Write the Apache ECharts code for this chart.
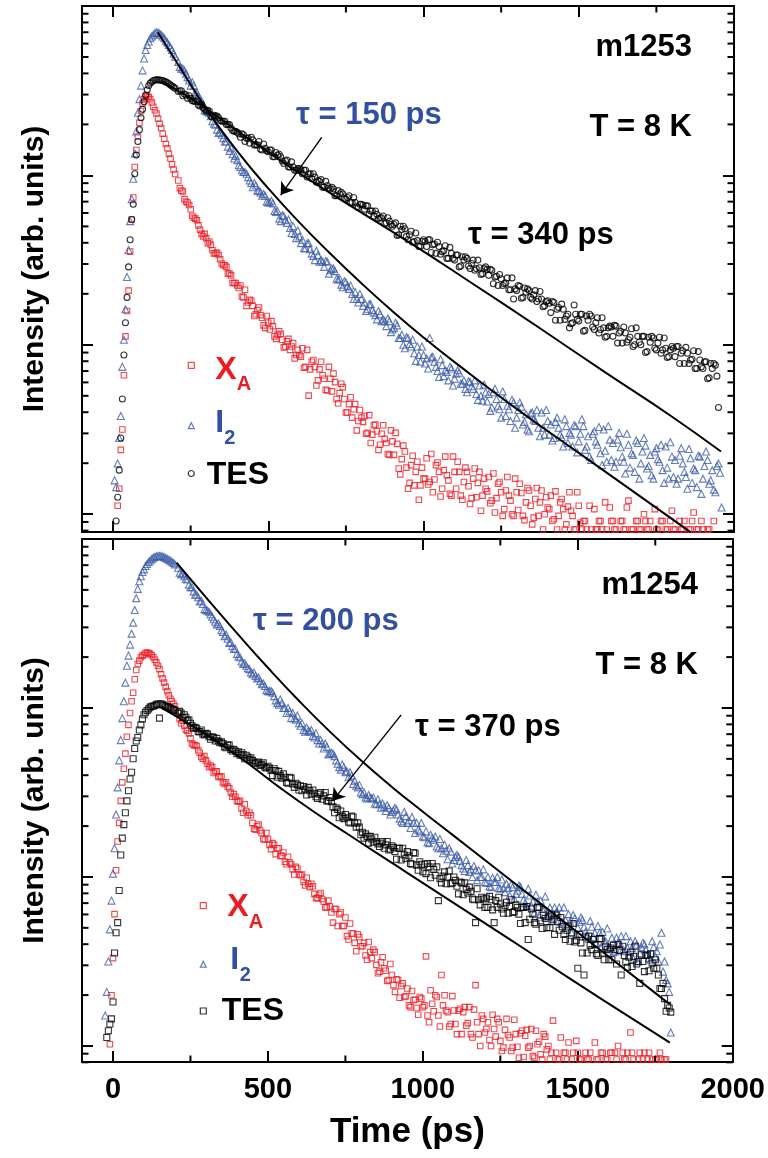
<!DOCTYPE html>
<html>
<head>
<meta charset="utf-8">
<script src="https://cdn.jsdelivr.net/npm/echarts@6/dist/echarts.min.js"></script>
<style>
html,body{margin:0;padding:0;background:#fff;}
#chart{width:768px;height:1158px;}
</style>
</head>
<body>
<div id="chart"></div>
<script>
// ---------------- DATA (intensities stored as log10 of arb. units) ----------------
// Sample times (ps), top panel (m1253), set A
const topTime = [
 5,10,15,20,25,30,35,40,45,50,
 55,60,65,70,75,80,85,90,95,100,
 105,110,115,120,125,130,135,140,145,150,
 155,160,165,170,175,180,185,190,195,200,
 210,220,230,240,250,260,270,280,290,300,
 310,320,330,340,350,360,370,380,390,400,
 410,420,430,440,450,460,470,480,490,500,
 510,520,530,540,550,560,570,580,590,600,
 610,620,630,640,650,660,670,680,690,700,
 710,720,730,740,750,760,770,780,790,800,
 810,820,830,840,850,860,870,880,890,900,
 910,920,930,940,950,960,970,980,990,1000,
 1010,1020,1030,1040,1050,1060,1070,1080,1090,1100,
 1110,1120,1130,1140,1150,1160,1170,1180,1190,1200,
 1210,1220,1230,1240,1250,1260,1270,1280,1290,1300,
 1310,1320,1330,1340,1350,1360,1370,1380,1390,1400,
 1410,1420,1430,1440,1450,1460,1470,1480,1490,1500,
 1510,1520,1530,1540,1550,1560,1570,1580,1590,1600,
 1610,1620,1630,1640,1650,1660,1670,1680,1690,1700,
 1710,1720,1730,1740,1750,1760,1770,1780,1790,1800,
 1810,1820,1830,1840,1850,1860,1870,1880,1890,1900,
 1910,1920,1930,1940,1950,1960
];
// X_A (red squares), top panel
const topXA = [
 null,null,-2.95,-2.85,-2.62,-2.50,-2.18,-1.95,-1.80,-1.68,
 -1.45,-1.26,-1.13,-0.95,-0.85,-0.77,-0.69,-0.62,-0.575,-0.55,
 -0.535,-0.53,-0.538,-0.55,-0.57,-0.595,-0.615,-0.635,-0.665,-0.695,
 -0.72,-0.754,-0.784,-0.815,-0.84,-0.873,-0.90,-0.935,-0.965,-0.992,
 -1.03,-1.09,-1.14,-1.16,-1.20,-1.25,-1.265,-1.32,-1.36,-1.37,
 -1.39,-1.44,-1.46,-1.47,-1.52,-1.53,-1.58,-1.59,-1.635,-1.65,
 -1.65,-1.72,-1.77,-1.735,-1.77,-1.82,-1.78,-1.84,-1.90,-1.87,
 -1.86,-1.95,-1.94,-1.935,-2.015,-1.98,-2.03,-1.99,-2.06,-2.06,
 -2.02,-2.13,-2.30,-2.10,-2.13,-2.21,-2.10,-2.20,-2.27,-2.20,
 -2.17,-2.32,-2.285,-2.25,-2.40,-2.35,-2.43,-2.35,-2.45,-2.43,
 -2.42,-2.52,-2.58,-2.475,-2.51,-2.59,-2.475,-2.58,-2.65,-2.57,
 -2.52,-2.73,-2.675,-2.63,-2.85,-2.71,-2.83,-2.69,-2.83,-2.79,
 -2.67,-2.81,-2.87,-2.71,-2.75,-2.85,-2.66,-2.80,-2.89,-2.75,
 -2.69,-2.89,-2.81,-2.75,-2.94,-2.79,-2.90,-2.75,-2.89,-2.85,
 -2.78,-2.92,-2.99,-2.82,-2.87,-2.97,-2.78,-2.92,-3.01,-2.87,
 -2.82,-3.01,-2.93,-2.86,-3.06,-2.91,-3.01,-2.86,-3.00,-2.96,
 -2.89,-3.03,-3.09,-2.93,-2.97,-3.06,-2.87,-3.01,-3.09,-2.95,
 -3.09,-3.04,null,-3.09,-2.97,-3.09,-3.04,null,-3.09,-2.96,
 -3.04,-3.09,null,-3.04,-3.09,-2.92,-3.09,null,-3.04,-3.09,
 -3.00,-3.09,-3.04,null,-3.09,null,-3.04,-3.09,null,-2.98,
 -3.09,null,-3.09,-3.04,null,-3.09,-2.99,-3.09,null,-3.09,
 null,-3.09,null,null,null,null
];
// I_2 (blue triangles), top panel
const topI2 = [
 -2.80,-2.84,-2.70,-2.55,-2.42,-2.13,-1.97,-1.79,-1.60,-1.44,
 -1.27,-1.14,-1.02,-0.87,-0.74,-0.63,-0.55,-0.47,-0.38,-0.31,
 -0.26,-0.23,-0.21,-0.19,-0.18,-0.17,-0.16,-0.155,-0.158,-0.162,
 -0.17,-0.18,-0.19,-0.205,-0.215,-0.23,-0.245,-0.26,-0.28,-0.30,
 -0.33,-0.37,-0.38,-0.42,-0.47,-0.47,-0.51,-0.56,-0.58,-0.62,
 -0.63,-0.68,-0.70,-0.75,-0.76,-0.80,-0.83,-0.84,-0.90,-0.91,
 -0.95,-0.98,-0.99,-1.03,-1.07,-1.06,-1.09,-1.12,-1.12,-1.16,
 -1.15,-1.21,-1.21,-1.27,-1.24,-1.28,-1.31,-1.30,-1.37,-1.36,
 -1.38,-1.43,-1.40,-1.46,-1.50,-1.47,-1.50,-1.54,-1.51,-1.56,
 -1.55,-1.61,-1.61,-1.66,-1.63,-1.67,-1.70,-1.69,-1.75,-1.73,
 -1.75,-1.79,-1.76,-1.81,-1.85,-1.82,-1.85,-1.89,-1.86,-1.91,
 -1.87,-1.96,-1.94,-2.02,-1.96,-2.01,-2.05,-2.01,-2.10,-2.06,
 -2.08,-1.96,-2.07,-2.13,-2.19,-2.12,-2.15,-2.21,-2.14,-2.20,
 -2.15,-2.23,-2.21,-2.28,-2.22,-2.26,-2.29,-2.24,-2.33,-2.28,
 -2.29,-2.37,-2.26,-2.36,-2.43,-2.32,-2.36,-2.45,-2.34,-2.43,
 -2.34,-2.47,-2.41,-2.51,-2.40,-2.45,-2.49,-2.40,-2.53,-2.45,
 -2.47,-2.55,-2.43,-2.53,-2.60,-2.48,-2.52,-2.60,-2.48,-2.57,
 -2.44,-2.62,-2.54,-2.68,-2.51,-2.59,-2.64,-2.50,-2.69,-2.56,
 -2.58,-2.69,-2.52,-2.66,-2.76,-2.59,-2.64,-2.75,-2.58,-2.70,
 -2.55,-2.73,-2.65,-2.79,-2.61,-2.69,-2.74,-2.60,-2.79,-2.66,
 -2.68,-2.79,-2.61,-2.75,-2.85,-2.67,-2.73,-2.84,-2.66,-2.79,
 -2.63,-2.82,-2.74,-2.87,-2.70,-2.96
];
// TES (black circles), top panel
const topTES = [
 null,-3.04,-2.90,-2.74,-2.55,-2.32,-2.06,-1.87,-1.72,-1.54,
 -1.38,-1.26,-1.17,-0.99,-0.88,-0.80,-0.73,-0.66,-0.61,-0.565,
 -0.525,-0.495,-0.47,-0.455,-0.447,-0.44,-0.437,-0.436,-0.436,-0.437,
 -0.438,-0.44,-0.444,-0.448,-0.453,-0.459,-0.466,-0.472,-0.479,-0.486,
 -0.505,-0.50,-0.52,-0.545,-0.545,-0.56,-0.56,-0.59,-0.60,-0.62,
 -0.62,-0.655,-0.65,-0.66,-0.68,-0.68,-0.70,-0.72,-0.74,-0.745,
 -0.775,-0.76,-0.78,-0.81,-0.79,-0.82,-0.80,-0.85,-0.84,-0.86,
 -0.85,-0.89,-0.88,-0.89,-0.93,-0.91,-0.95,-0.95,-0.97,-0.96,
 -0.99,-0.97,-0.99,-1.02,-1.01,-1.03,-1.025,-1.07,-1.06,-1.08,
 -1.08,-1.12,-1.11,-1.11,-1.14,-1.12,-1.16,-1.16,-1.19,-1.17,
 -1.20,-1.18,-1.21,-1.24,-1.23,-1.25,-1.24,-1.28,-1.27,-1.30,
 -1.28,-1.35,-1.32,-1.315,-1.38,-1.33,-1.39,-1.385,-1.42,-1.38,
 -1.42,-1.38,-1.41,-1.46,-1.42,-1.45,-1.415,-1.49,-1.46,-1.50,
 -1.47,-1.535,-1.50,-1.49,-1.55,-1.50,-1.55,-1.545,-1.58,-1.54,
 -1.59,-1.56,-1.60,-1.65,-1.61,-1.64,-1.605,-1.675,-1.73,-1.68,
 -1.655,-1.72,-1.69,-1.68,-1.73,-1.68,-1.73,-1.73,-1.77,-1.74,
 -1.81,-1.75,-1.79,-1.855,-1.79,-1.83,-1.90,-1.87,-1.82,-1.86,
 -1.82,-1.915,-1.855,-1.83,-1.91,-1.84,-1.91,-1.90,-1.95,-1.89,
 -1.95,-1.89,-1.93,-1.99,-1.93,-1.97,-1.905,-2.00,-1.95,-2.00,
 -1.95,-2.04,-1.985,-1.96,-2.03,-1.955,-2.03,-2.02,-2.07,-2.01,
 -2.07,-2.01,-2.05,-2.11,-2.05,-2.09,-2.035,-2.14,-2.09,-2.14,
 -2.10,-2.195,-2.14,-2.12,-2.37,null
];
// Second (interleaved) set of samples, top panel
const topTimeB = [
 215,225,235,245,255,265,275,285,295,305,
 315,325,335,345,355,365,375,385,395,405,
 415,425,435,445,455,465,475,485,495,505,
 515,525,535,545,555,565,575,585,595,605,
 615,625,635,645,655,665,675,685,695,705,
 715,725,735,745,755,765,775,785,795,805,
 815,825,835,845,855,865,875,885,895,905,
 915,925,935,945,955,965,975,985,995,1005,
 1015,1025,1035,1045,1055,1065,1075,1085,1095,1105,
 1115,1125,1135,1145,1155,1165,1175,1185,1195,1205,
 1215,1225,1235,1245,1255,1265,1275,1285,1295,1305,
 1315,1325,1335,1345,1355,1365,1375,1385,1395,1405,
 1415,1425,1435,1445,1455,1465,1475,1485,1495,1505,
 1515,1525,1535,1545,1555,1565,1575,1585,1595,1605,
 1615,1625,1635,1645,1655,1665,1675,1685,1695,1705,
 1715,1725,1735,1745,1755,1765,1775,1785,1795,1805,
 1815,1825,1835,1845,1855,1865,1875,1885,1895,1905,
 1915,1925,1935,1945,1955
];
const topXAB = [
 -1.075,-1.095,-1.155,-1.175,-1.24,-1.255,-1.295,-1.345,-1.345,-1.40,
 -1.41,-1.46,-1.455,-1.495,-1.53,-1.54,-1.58,-1.635,-1.635,-1.665,
 -1.715,-1.675,-1.75,-1.74,-1.83,-1.795,-1.825,-1.885,-1.83,-1.91,
 -1.89,-1.965,-1.92,-1.97,-2.01,-1.965,-2.01,-2.08,-2.03,-2.07,
 -2.135,-2.03,-2.145,-2.09,-2.24,-2.145,-2.18,-2.265,-2.13,-2.275,
 -2.22,-2.345,-2.23,-2.32,-2.40,-2.31,-2.38,-2.505,-2.385,-2.455,
 -2.525,-2.415,-2.53,-2.47,-2.62,-2.525,-2.555,-2.645,-2.505,-2.65,
 -2.585,-2.765,-2.595,-2.725,-2.815,-2.655,-2.75,-2.915,-2.725,-2.79,
 -2.825,-2.645,-2.795,-2.695,-2.895,-2.74,-2.77,-2.88,-2.66,-2.85,
 -2.75,-2.915,-2.725,-2.835,-2.905,-2.73,-2.815,-2.98,-2.79,-2.865,
 -2.935,-2.76,-2.905,-2.81,-3.01,-2.86,-2.89,-3.00,-2.79,-2.975,
 -2.875,-3.035,-2.845,-2.95,-3.02,-2.845,-2.93,-3.09,-2.90,-2.97,
 -3.04,-2.865,-3.01,-2.91,-3.09,-2.955,-2.98,-3.09,-2.87,-3.05,
 -3.04,-3.09,-2.95,null,-3.09,-3.04,-3.09,-2.93,null,-3.04,
 -3.09,null,-3.04,-3.09,-2.96,null,-3.09,-3.04,-3.09,null,
 -3.04,-3.09,null,-2.97,-3.09,-3.04,null,-3.09,-3.04,-3.09,
 null,-3.04,-3.09,null,-3.09,-3.04,null,-3.09,-3.04,null,
 -3.09,null,-3.04,null,null
];
const topI2B = [
 -0.36,-0.37,-0.40,-0.44,-0.45,-0.51,-0.53,-0.56,-0.615,-0.625,
 -0.65,-0.695,-0.73,-0.745,-0.78,-0.80,-0.855,-0.875,-0.885,-0.94,
 -0.97,-0.98,-1.01,-1.045,-1.045,-1.09,-1.10,-1.11,-1.155,-1.16,
 -1.165,-1.215,-1.255,-1.235,-1.265,-1.26,-1.34,-1.345,-1.325,-1.40,
 -1.43,-1.40,-1.435,-1.475,-1.445,-1.51,-1.51,-1.505,-1.58,-1.55,
 -1.565,-1.615,-1.645,-1.625,-1.655,-1.65,-1.73,-1.73,-1.70,-1.77,
 -1.80,-1.76,-1.795,-1.825,-1.80,-1.86,-1.86,-1.845,-1.925,-1.90,
 -1.885,-1.96,-2.00,-1.955,-1.995,-1.97,-2.095,-2.06,-2.01,-2.11,
 -2.14,-2.075,-2.10,-2.155,-2.085,-2.185,-2.16,-2.13,-2.24,-2.17,
 -2.165,-2.23,-2.26,-2.215,-2.245,-2.21,-2.325,-2.30,-2.235,-2.335,
 -2.39,-2.28,-2.32,-2.38,-2.275,-2.42,-2.38,-2.325,-2.49,-2.385,
 -2.365,-2.455,-2.50,-2.405,-2.44,-2.385,-2.54,-2.49,-2.385,-2.53,
 -2.565,-2.455,-2.49,-2.545,-2.44,-2.58,-2.53,-2.475,-2.635,-2.525,
 -2.48,-2.60,-2.66,-2.525,-2.57,-2.485,-2.71,-2.625,-2.48,-2.68,
 -2.72,-2.56,-2.605,-2.69,-2.525,-2.725,-2.65,-2.565,-2.79,-2.63,
 -2.595,-2.715,-2.77,-2.63,-2.675,-2.59,-2.815,-2.725,-2.575,-2.78,
 -2.82,-2.655,-2.70,-2.78,-2.615,-2.815,-2.74,-2.655,-2.88,-2.715,
 -2.68,-2.80,-2.855,-2.715,-2.755
];
const topTESB = [
 -0.50,-0.53,-0.525,-0.53,-0.56,-0.565,-0.585,-0.58,-0.61,-0.615,
 -0.65,-0.645,-0.65,-0.675,-0.68,-0.70,-0.70,-0.735,-0.74,-0.755,
 -0.755,-0.80,-0.78,-0.775,-0.82,-0.82,-0.845,-0.815,-0.855,-0.85,
 -0.89,-0.865,-0.875,-0.915,-0.915,-0.95,-0.92,-0.97,-0.96,-0.965,
 -0.97,-1.01,-0.99,-0.99,-1.04,-1.035,-1.07,-1.035,-1.075,-1.07,
 -1.12,-1.09,-1.10,-1.135,-1.13,-1.16,-1.13,-1.185,-1.17,-1.175,
 -1.18,-1.23,-1.21,-1.21,-1.255,-1.25,-1.285,-1.25,-1.29,-1.29,
 -1.355,-1.30,-1.30,-1.36,-1.35,-1.395,-1.34,-1.42,-1.39,-1.39,
 -1.38,-1.455,-1.405,-1.395,-1.465,-1.445,-1.49,-1.425,-1.49,-1.47,
 -1.54,-1.48,-1.48,-1.535,-1.52,-1.56,-1.50,-1.585,-1.55,-1.555,
 -1.555,-1.64,-1.595,-1.585,-1.65,-1.635,-1.675,-1.605,-1.67,-1.65,
 -1.725,-1.665,-1.67,-1.72,-1.705,-1.745,-1.685,-1.775,-1.745,-1.755,
 -1.745,-1.855,-1.78,-1.76,-1.85,-1.82,-1.875,-1.765,-1.85,-1.82,
 -1.92,-1.83,-1.82,-1.895,-1.87,-1.93,-1.84,-1.955,-1.90,-1.895,
 -1.885,-1.99,-1.92,-1.895,-1.985,-1.955,-2.01,-1.90,-1.985,-1.95,
 -2.045,-1.955,-1.95,-2.02,-1.99,-2.05,-1.96,-2.075,-2.03,-2.02,
 -2.01,-2.11,-2.035,-2.015,-2.11,-2.085,-2.14,-2.04,-2.13,-2.10,
 -2.20,-2.11,-2.11,-2.185,null
];
// Fit curves, top panel
const topFitI2Time = [144,200,300,400,500,600,700,800,900,1000,1100,1300,1500,1700,1860];
const topFitI2 = [-0.155,-0.317,-0.607,-0.857,-1.077,-1.277,-1.462,-1.637,-1.802,-1.957,-2.102,-2.378,-2.638,-2.898,-3.106];
const topFitTESTime = [157,200,275,437,653,967,1155,1369,1583,1797,1958];
const topFitTES = [-0.446,-0.49,-0.575,-0.784,-1.05,-1.41,-1.635,-1.895,-2.16,-2.42,-2.63];

// Sample times (ps), bottom panel (m1254), set A
const botTime = [
 -25,-20,-15,-10,-5,0,5,10,15,20,
 25,30,35,40,45,50,55,60,65,70,
 75,80,85,90,95,100,105,110,115,120,
 125,130,135,140,145,150,155,160,165,170,
 175,180,185,190,195,200,
 210,220,230,240,250,260,270,280,290,300,
 310,320,330,340,350,360,370,380,390,400,
 410,420,430,440,450,460,470,480,490,500,
 510,520,530,540,550,560,570,580,590,600,
 610,620,630,640,650,660,670,680,690,700,
 710,720,730,740,750,760,770,780,790,800,
 810,820,830,840,850,860,870,880,890,900,
 910,920,930,940,950,960,970,980,990,1000,
 1010,1020,1030,1040,1050,1060,1070,1080,1090,1100,
 1110,1120,1130,1140,1150,1160,1170,1180,1190,1200,
 1210,1220,1230,1240,1250,1260,1270,1280,1290,1300,
 1310,1320,1330,1340,1350,1360,1370,1380,1390,1400,
 1410,1420,1430,1440,1450,1460,1470,1480,1490,1500,
 1510,1520,1530,1540,1550,1560,1570,1580,1590,1600,
 1610,1620,1630,1640,1650,1660,1670,1680,1690,1700,
 1710,1720,1730,1740,1750,1760,1770,1780,1790,1800
];
const botXA = [
 null,null,null,-2.99,-2.70,-2.48,-2.22,-1.96,-1.79,-1.68,
 -1.55,-1.44,-1.36,-1.27,-1.17,-1.10,-1.03,-0.96,-0.91,-0.83,
 -0.775,-0.74,-0.72,-0.70,-0.69,-0.685,-0.675,-0.672,-0.675,-0.68,
 -0.688,-0.70,-0.715,-0.73,-0.75,-0.77,-0.80,-0.825,-0.85,-0.875,
 -0.90,-0.925,-0.945,-0.96,-0.975,-0.99,
 -1.03,-1.09,-1.105,-1.135,-1.18,-1.22,-1.225,-1.265,-1.30,-1.31,
 -1.35,-1.35,-1.375,-1.405,-1.405,-1.45,-1.465,-1.50,-1.51,-1.55,
 -1.55,-1.62,-1.61,-1.62,-1.68,-1.72,-1.69,-1.74,-1.78,-1.775,
 -1.835,-1.81,-1.83,-1.875,-1.855,-1.925,-1.915,-1.955,-1.94,-1.985,
 -1.985,-2.05,-2.04,-2.04,-2.10,-2.125,-2.095,-2.145,-2.18,-2.175,
 -2.27,-2.19,-2.22,-2.29,-2.24,-2.37,-2.335,-2.39,-2.34,-2.41,
 -2.39,-2.49,-2.445,-2.43,-2.52,-2.56,-2.475,-2.555,-2.61,-2.58,
 -2.68,-2.61,-2.645,-2.71,-2.66,-2.77,-2.73,-2.775,-2.71,-2.77,
 -2.47,-2.86,-2.75,-2.70,-2.82,-2.58,-2.70,-2.80,-2.87,-2.79,
 -2.93,-2.78,-2.80,-2.88,-2.77,-2.95,-2.64,-2.93,-2.82,-2.92,
 -2.86,-3.00,-2.90,-2.84,-2.97,-3.01,-2.84,-2.95,-3.01,-2.93,
 -3.07,-2.91,-2.94,-3.01,-2.90,-3.07,-2.99,-3.05,-2.93,-3.02,
 -3.08,-2.85,-3.04,-3.08,null,-3.04,-2.98,-3.08,null,-3.04,
 -3.08,null,-3.08,-3.04,null,-3.08,null,-3.04,-3.08,null,
 -3.04,-3.04,-3.00,null,-3.08,-3.04,-2.92,-3.08,null,-3.04,
 -3.08,null,-3.04,-3.08,-3.08,null,-3.08,-3.08,null,null
];
const botI2 = [
 -2.82,-2.68,-2.50,-2.31,-2.14,-1.98,-1.83,-1.63,-1.47,-1.31,
 -1.19,-1.06,-0.96,-0.85,-0.75,-0.69,-0.625,-0.56,-0.495,-0.42,
 -0.35,-0.295,-0.25,-0.22,-0.195,-0.18,-0.16,-0.148,-0.136,-0.127,
 -0.118,-0.11,-0.106,-0.102,-0.10,-0.10,-0.10,-0.103,-0.108,-0.112,
 -0.117,-0.122,-0.128,-0.135,-0.142,-0.15,
 -0.17,-0.21,-0.22,-0.24,-0.285,-0.31,-0.33,-0.37,-0.385,-0.42,
 -0.43,-0.46,-0.49,-0.50,-0.54,-0.575,-0.59,-0.61,-0.65,-0.68,
 -0.70,-0.74,-0.75,-0.77,-0.80,-0.81,-0.82,-0.86,-0.87,-0.90,
 -0.90,-0.93,-0.97,-0.95,-1.00,-1.03,-1.02,-1.03,-1.07,-1.09,
 -1.09,-1.14,-1.135,-1.13,-1.175,-1.19,-1.19,-1.24,-1.23,-1.27,
 -1.27,-1.31,-1.35,-1.335,-1.38,-1.41,-1.40,-1.43,-1.47,-1.50,
 -1.50,-1.535,-1.53,-1.53,-1.57,-1.57,-1.565,-1.61,-1.59,-1.615,
 -1.59,-1.63,-1.67,-1.615,-1.68,-1.71,-1.68,-1.68,-1.73,-1.76,
 -1.73,-1.80,-1.77,-1.76,-1.83,-1.83,-1.81,-1.895,-1.85,-1.90,
 -1.87,-1.905,-1.95,-1.90,-1.97,-2.00,-1.96,-1.96,-2.00,-2.03,
 -2.00,-2.06,-2.03,-2.00,-2.07,-2.065,-2.04,-2.11,-2.06,-2.10,
 -2.05,-2.10,-2.155,-2.07,-2.17,-2.21,-2.15,-2.14,-2.19,-2.23,
 -2.18,-2.26,-2.21,-2.18,-2.27,-2.255,-2.22,-2.33,-2.245,-2.30,
 -2.24,-2.295,-2.345,-2.26,-2.355,-2.39,-2.33,-2.325,-2.38,-2.42,
 -2.36,-2.44,-2.39,-2.35,-2.44,-2.42,-2.38,-2.485,-2.40,-2.45,
 -2.39,-2.43,-2.48,-2.38,-2.47,-2.50,-2.33,-2.50,-2.63,-2.92
];
const botTES = [
 null,-2.95,-2.91,-2.87,-2.84,-2.74,-2.45,-2.33,-2.27,-2.08,
 -1.87,-1.77,-1.69,-1.62,-1.55,-1.49,-1.42,-1.38,-1.30,-1.24,
 -1.195,-1.175,-1.13,-1.10,-1.065,-1.04,-1.025,-1.015,-1.005,-0.995,
 -0.99,-0.99,-0.985,-0.98,-0.975,-1.06,-0.975,-0.98,-0.985,-0.99,
 -0.992,-0.997,-1.0,-1.005,-1.01,-1.015,
 -1.03,-1.03,-1.04,-1.075,-1.09,-1.12,-1.12,-1.14,-1.155,-1.15,
 -1.17,-1.17,-1.195,-1.195,-1.20,-1.23,-1.22,-1.245,-1.245,-1.27,
 -1.28,-1.275,-1.28,-1.305,-1.31,-1.33,-1.32,-1.335,-1.35,-1.345,
 -1.37,-1.36,-1.41,-1.40,-1.39,-1.44,-1.41,-1.45,-1.445,-1.485,
 -1.49,-1.48,-1.47,-1.51,-1.505,-1.535,-1.50,-1.52,-1.55,-1.53,
 -1.585,-1.59,-1.65,-1.64,-1.63,-1.675,-1.64,-1.68,-1.68,-1.75,
 -1.77,-1.76,-1.76,-1.795,-1.79,-1.82,-1.79,-1.81,-1.84,-1.815,
 -1.85,-1.83,-1.90,-1.87,-1.85,-1.92,-1.855,-1.93,-1.91,-1.97,
 -1.98,-1.94,-1.92,-1.99,-2.14,-2.035,-1.97,-2.00,-2.04,-2.00,
 -2.055,-2.03,-2.105,-2.075,-2.06,-2.13,-2.27,-2.135,-2.12,-2.18,
 -2.18,-2.135,-2.27,-2.18,-2.16,-2.215,-2.15,-2.175,-2.21,-2.165,
 -2.22,-2.18,-2.27,-2.37,-2.19,-2.27,-2.18,-2.26,-2.225,-2.30,
 -2.30,-2.25,-2.225,-2.315,-2.295,-2.37,-2.29,-2.33,-2.385,-2.54,
 -2.39,-2.58,-2.45,-2.405,-2.37,-2.455,-2.365,-2.45,-2.41,-2.49,
 -2.49,-2.43,-2.40,-2.58,-2.465,-2.535,-2.445,-2.47,-2.515,-2.63,
 -2.50,-2.465,-2.555,-2.51,-2.49,-2.58,-2.66,-2.72,-2.76,-2.80
];
// Second (interleaved) set of samples, bottom panel
const botTimeB = [
 215,225,235,245,255,265,275,285,295,305,
 315,325,335,345,355,365,375,385,395,405,
 415,425,435,445,455,465,475,485,495,505,
 515,525,535,545,555,565,575,585,595,605,
 615,625,635,645,655,665,675,685,695,705,
 715,725,735,745,755,765,775,785,795,805,
 815,825,835,845,855,865,875,885,895,905,
 915,925,935,945,955,965,975,985,995,1005,
 1015,1025,1035,1045,1055,1065,1075,1085,1095,1105,
 1115,1125,1135,1145,1155,1165,1175,1185,1195,1205,
 1215,1225,1235,1245,1255,1265,1275,1285,1295,1305,
 1315,1325,1335,1345,1355,1365,1375,1385,1395,1405,
 1415,1425,1435,1445,1455,1465,1475,1485,1495,1505,
 1515,1525,1535,1545,1555,1565,1575,1585,1595,1605,
 1615,1625,1635,1645,1655,1665,1675,1685,1695,1705,
 1715,1725,1735,1745,1755,1765,1775,1785,1795
];
const botXAB = [
 -1.065,-1.075,-1.13,-1.15,-1.21,-1.22,-1.25,-1.29,-1.285,-1.33,
 -1.34,-1.385,-1.375,-1.41,-1.44,-1.44,-1.475,-1.525,-1.525,-1.555,
 -1.595,-1.57,-1.635,-1.635,-1.715,-1.70,-1.725,-1.775,-1.74,-1.81,
 -1.80,-1.865,-1.83,-1.875,-1.91,-1.88,-1.925,-1.985,-1.95,-1.99,
 -2.03,-2.005,-2.06,-2.055,-2.125,-2.105,-2.13,-2.18,-2.14,-2.21,
 -2.19,-2.29,-2.21,-2.29,-2.35,-2.275,-2.335,-2.44,-2.355,-2.41,
 -2.465,-2.385,-2.48,-2.445,-2.57,-2.505,-2.54,-2.615,-2.515,-2.64,
 -2.605,-2.715,-2.63,-2.705,-2.76,-2.675,-2.725,-2.815,-2.72,-2.76,
 -2.82,-2.67,-2.795,-2.71,-2.885,-2.76,-2.79,-2.885,-2.705,-2.87,
 -2.79,-2.93,-2.77,-2.865,-2.93,-2.785,-2.86,-3.00,-2.84,-2.90,
 -2.965,-2.815,-2.945,-2.86,-3.03,-2.905,-2.935,-3.03,-2.845,-3.005,
 -2.925,-3.065,-2.905,-3.00,-3.06,-2.91,-2.975,-3.08,-2.945,-3.00,
 -3.04,null,-3.08,-2.95,-3.04,-3.08,null,-3.04,-2.97,-3.08,
 null,-3.04,-3.08,null,-2.98,-3.08,-3.04,null,-3.08,-3.04,
 null,-3.08,null,-3.04,-3.08,null,-3.04,null,-3.08,null,
 -3.04,-3.08,null,null,-3.08,-3.04,null,-3.08,null
];
const botI2B = [
 -0.20,-0.205,-0.235,-0.27,-0.285,-0.33,-0.345,-0.365,-0.415,-0.425,
 -0.445,-0.475,-0.505,-0.515,-0.55,-0.565,-0.615,-0.635,-0.65,-0.695,
 -0.725,-0.735,-0.765,-0.79,-0.79,-0.825,-0.84,-0.855,-0.895,-0.90,
 -0.91,-0.955,-0.98,-0.97,-1.00,-1.00,-1.06,-1.06,-1.045,-1.105,
 -1.13,-1.115,-1.14,-1.165,-1.15,-1.21,-1.21,-1.21,-1.275,-1.265,
 -1.285,-1.33,-1.365,-1.35,-1.375,-1.38,-1.45,-1.46,-1.455,-1.51,
 -1.53,-1.515,-1.535,-1.565,-1.54,-1.59,-1.585,-1.575,-1.63,-1.605,
 -1.60,-1.655,-1.68,-1.64,-1.665,-1.645,-1.74,-1.72,-1.68,-1.765,
 -1.795,-1.75,-1.78,-1.82,-1.775,-1.86,-1.845,-1.83,-1.92,-1.88,
 -1.88,-1.93,-1.965,-1.93,-1.955,-1.935,-2.02,-2.00,-1.955,-2.035,
 -2.055,-2.005,-2.03,-2.065,-2.015,-2.09,-2.065,-2.045,-2.13,-2.08,
 -2.06,-2.135,-2.175,-2.11,-2.145,-2.105,-2.235,-2.19,-2.115,-2.23,
 -2.26,-2.18,-2.21,-2.265,-2.18,-2.295,-2.265,-2.225,-2.345,-2.265,
 -2.255,-2.325,-2.365,-2.295,-2.33,-2.29,-2.42,-2.38,-2.305,-2.415,
 -2.445,-2.36,-2.39,-2.435,-2.35,-2.46,-2.42,-2.38,-2.50,-2.415,
 -2.40,-2.46,-2.49,-2.415,-2.44,-2.40,-2.56,-2.61,-2.68
];
const botTESB = [
 -1.02,-1.055,-1.055,-1.07,-1.105,-1.115,-1.14,-1.13,-1.16,-1.155,
 -1.185,-1.175,-1.18,-1.205,-1.21,-1.235,-1.22,-1.255,-1.255,-1.26,
 -1.265,-1.30,-1.29,-1.295,-1.32,-1.325,-1.34,-1.325,-1.355,-1.355,
 -1.40,-1.37,-1.375,-1.415,-1.41,-1.445,-1.415,-1.47,-1.455,-1.46,
 -1.465,-1.515,-1.49,-1.485,-1.525,-1.51,-1.54,-1.50,-1.55,-1.555,
 -1.62,-1.60,-1.61,-1.655,-1.65,-1.68,-1.645,-1.705,-1.705,-1.735,
 -1.745,-1.80,-1.775,-1.765,-1.805,-1.80,-1.83,-1.79,-1.835,-1.825,
 -1.895,-1.83,-1.83,-1.89,-1.875,-1.925,-1.86,-1.96,-1.925,-1.925,
 -1.92,-2.005,-1.955,-1.94,-2.01,-1.995,-2.04,-1.965,-2.035,-2.02,
 -2.10,-2.035,-2.035,-2.095,-2.085,-2.135,-2.07,-2.165,-2.13,-2.125,
 -2.115,-2.195,-2.14,-2.12,-2.19,-2.17,-2.215,-2.135,-2.205,-2.18,
 -2.275,-2.18,-2.175,-2.25,-2.22,-2.28,-2.18,-2.305,-2.245,-2.235,
 -2.225,-2.34,-2.265,-2.24,-2.34,-2.315,-2.38,-2.275,-2.375,-2.34,
 -2.45,-2.355,-2.35,-2.43,-2.40,-2.465,-2.365,-2.49,-2.43,-2.42,
 -2.405,-2.515,-2.435,-2.41,-2.505,-2.475,-2.53,-2.41,-2.50,-2.46,
 -2.56,-2.46,-2.455,-2.54,-2.54,-2.66,-2.63,-2.795,-2.775
];
const botFitI2Time = [205,300,400,500,600,700,800,900,1000,1100,1300,1500,1797];
const botFitI2 = [-0.14,-0.345,-0.557,-0.762,-0.957,-1.14,-1.31,-1.467,-1.614,-1.757,-2.043,-2.329,-2.754];
const botFitTESTime = [157,250,329,437,545,653,761,869,941,1155,1369,1583,1797];
const botFitTES = [-1.0,-1.10,-1.19,-1.33,-1.48,-1.62,-1.75,-1.88,-1.965,-2.22,-2.475,-2.73,-2.98];

// Arrow annotations [time, log10 intensity]: start, tip
const topArrow = [[672,-0.775],[540,-1.116]];
const botArrow = [[930,-1.041],[708,-1.551]];

// Axis ticks
const xMajorTicks = [0,500,1000,1500,2000];
const xMinorTicks = [250,750,1250,1750];
const yMinorTicks = [0.0008,0.0009,0.002,0.003,0.004,0.005,0.006,0.007,0.008,0.009,
  0.02,0.03,0.04,0.05,0.06,0.07,0.08,0.09,0.2,0.3,0.4,0.5,0.6,0.7,0.8,0.9];
const topLogMin = -3.105, botLogMin = -3.095;

// ---------------- CHART ----------------
const RED = '#ec1c24', BLUE = '#3d5ca9', BLUE_TXT = '#3150a0', BLACK = '#000';
const FONT = '"Liberation Sans", Arial, Helvetica, sans-serif';

function pts(times, logs) {
  const out = [];
  for (let i = 0; i < times.length; i++) {
    if (logs[i] !== null && logs[i] !== undefined) out.push([times[i], Math.pow(10, logs[i])]);
  }
  return out;
}

function xAx(grid, pos, showLabels) {
  const a = {
    type: 'value', gridIndex: grid, position: pos, min: -100, max: 2000,
    axisLine: { show: true, onZero: false, lineStyle: { color: BLACK, width: 2 } },
    axisTick: { show: true, inside: true, length: 11, customValues: xMajorTicks, lineStyle: { color: BLACK, width: 2 } },
    axisLabel: { show: showLabels, customValues: xMajorTicks, formatter: function (v) { return String(v); },
      color: BLACK, fontFamily: FONT, fontWeight: 'bold', fontSize: 29, margin: 13 },
    splitLine: { show: false }
  };
  if (showLabels) {
    a.name = 'Time (ps)';
    a.nameLocation = 'middle';
    a.nameGap = 53;
    a.nameTextStyle = { color: BLACK, fontFamily: FONT, fontWeight: 'bold', fontSize: 35 };
  }
  return a;
}
function yAx(grid, pos, logMin, withName) {
  const a = {
    type: 'log', logBase: 10, gridIndex: grid, position: pos,
    min: Math.pow(10, logMin), max: 1,
    axisLine: { show: true, onZero: false, lineStyle: { color: BLACK, width: 2 } },
    axisTick: { show: true, inside: true, length: 11, lineStyle: { color: BLACK, width: 2 } },
    axisLabel: { show: false }, splitLine: { show: false }
  };
  if (withName) {
    a.name = 'Intensity (arb. units)';
    a.nameLocation = 'middle';
    a.nameGap = 32;
    a.nameTextStyle = { color: BLACK, fontFamily: FONT, fontWeight: 'bold', fontSize: 30 };
  }
  return a;
}

const tickData = [];
yMinorTicks.forEach(v => tickData.push([-100, v, 0]));
xMinorTicks.forEach(v => tickData.push([v, 1, 1]));

function tickSeries(ax) {
  return {
    type: 'custom', xAxisIndex: ax, yAxisIndex: ax, silent: true, clip: false, z: 6,
    data: tickData,
    renderItem: function (params, api) {
      const cs = params.coordSys;
      const st = { stroke: BLACK, lineWidth: 2 };
      const L = 6.5;
      if (api.value(2) === 0) {
        const y = api.coord([0, api.value(1)])[1];
        if (y < cs.y - 0.5 || y > cs.y + cs.height + 0.5) return null;
        return { type: 'group', children: [
          { type: 'line', shape: { x1: cs.x, y1: y, x2: cs.x + L, y2: y }, style: st },
          { type: 'line', shape: { x1: cs.x + cs.width - L, y1: y, x2: cs.x + cs.width, y2: y }, style: st }
        ]};
      } else {
        const x = api.coord([api.value(0), 1])[0];
        return { type: 'group', children: [
          { type: 'line', shape: { x1: x, y1: cs.y, x2: x, y2: cs.y + L }, style: st },
          { type: 'line', shape: { x1: x, y1: cs.y + cs.height - L, x2: x, y2: cs.y + cs.height }, style: st }
        ]};
      }
    }
  };
}

function scatter(name, ax, times, logs, timesB, logsB, symbol, size, color) {
  return {
    name: name, type: 'scatter', xAxisIndex: ax, yAxisIndex: ax,
    data: pts(times, logs).concat(pts(timesB, logsB)),
    symbol: symbol, symbolSize: size, clip: true, silent: true, z: 2,
    itemStyle: { color: 'rgba(0,0,0,0)', borderColor: color, borderWidth: 1.1 }
  };
}
function fit(ax, times, logs) {
  return {
    type: 'line', xAxisIndex: ax, yAxisIndex: ax, data: pts(times, logs),
    showSymbol: false, symbol: 'none', smooth: true, clip: true, silent: true, z: 4,
    lineStyle: { color: BLACK, width: 2 }
  };
}
function arrow(ax, a) {
  return {
    type: 'lines', coordinateSystem: 'cartesian2d', xAxisIndex: ax, yAxisIndex: ax, silent: true, z: 5,
    symbol: ['none', 'arrow'], symbolSize: [7, 12],
    lineStyle: { color: BLACK, width: 1.4, opacity: 1 },
    data: [{ coords: [[a[0][0], Math.pow(10, a[0][1])], [a[1][0], Math.pow(10, a[1][1])]] }]
  };
}

const richBase = { fontFamily: FONT, fontWeight: 'bold' };
function legendOne(name, icon, color, left, top, text, rich) {
  return {
    data: [name], left: left, top: top, orient: 'horizontal', padding: 0,
    itemWidth: 6, itemHeight: 6, icon: icon, selectedMode: false,
    itemStyle: { color: 'rgba(0,0,0,0)', borderColor: color, borderWidth: 1.2 },
    formatter: function () { return text; },
    textStyle: { rich: rich }
  };
}
function subRich(color, px, padL, ps, padS) {
  return {
    b: Object.assign({ fontSize: 32, color: color, verticalAlign: 'top', padding: [px, 0, 0, padL] }, richBase),
    s: Object.assign({ fontSize: 20, color: color, verticalAlign: 'top', padding: [ps, 0, 0, padS] }, richBase)
  };
}
function plainRich(color, p, padL) {
  return { b: Object.assign({ fontSize: 32, color: color, verticalAlign: 'top', padding: [p, 0, 0, padL] }, richBase) };
}

function txt(x, y, text, color, align) {
  return {
    type: 'text', x: x, y: y, silent: true,
    style: { text: text, fill: color, font: 'bold 31px ' + FONT, textAlign: align || 'left', textVerticalAlign: 'middle' }
  };
}

const option = {
  backgroundColor: '#fff',
  animation: false,
  grid: [
    { left: 82, top: 6, width: 652, height: 526, show: false },
    { left: 82, top: 539, width: 652, height: 523, show: false }
  ],
  xAxis: [ xAx(0, 'bottom', false), xAx(1, 'bottom', true), xAx(0, 'top', false), xAx(1, 'top', false) ],
  yAxis: [ yAx(0, 'left', topLogMin, true), yAx(1, 'left', botLogMin, true), yAx(0, 'right', topLogMin, false), yAx(1, 'right', botLogMin, false) ],
  legend: [
    legendOne('XA1', 'rect', RED, 187.7, 353.7, '{b|X}{s|A}', subRich(RED, 18, 16, 39.2, 0)),
    legendOne('I21', 'triangle', BLUE, 187.7, 407.4, '{b|I}{s|2}', subRich(BLUE_TXT, 4.3, 16, 25.2, 0)),
    legendOne('TES1', 'circle', BLACK, 187.7, 459.1, '{b|TES}', plainRich(BLACK, 3.2, 7.5)),
    legendOne('XA2', 'rect', RED, 199.7, 891.4, '{b|X}{s|A}', subRich(RED, 12.6, 16, 33.8, 0)),
    legendOne('I22', 'triangle', BLUE, 199.7, 944, '{b|I}{s|2}', subRich(BLUE_TXT, 0.8, 19, 22, 0.5)),
    legendOne('TES2', 'rect', BLACK, 199.7, 995, '{b|TES}', plainRich(BLACK, 0, 10.5))
  ],
  graphic: [
    txt(692, 47, 'm1253', BLACK, 'right'),
    txt(692, 127, 'T = 8 K', BLACK, 'right'),
    txt(296, 115, 'τ = 150 ps', BLUE_TXT, 'left'),
    txt(468, 235, 'τ = 340 ps', BLACK, 'left'),
    txt(698, 585.5, 'm1254', BLACK, 'right'),
    txt(698, 665.5, 'T = 8 K', BLACK, 'right'),
    txt(253, 621, 'τ = 200 ps', BLUE_TXT, 'left'),
    txt(415, 727, 'τ = 370 ps', BLACK, 'left')
  ],
  series: [
    scatter('XA1', 0, topTime, topXA, topTimeB, topXAB, 'rect', 5.5, RED),
    scatter('I21', 0, topTime, topI2, topTimeB, topI2B, 'triangle', 7, BLUE),
    scatter('TES1', 0, topTime, topTES, topTimeB, topTESB, 'circle', 6, BLACK),
    fit(0, topFitI2Time, topFitI2),
    fit(0, topFitTESTime, topFitTES),
    arrow(0, topArrow),
    tickSeries(0),
    scatter('XA2', 1, botTime, botXA, botTimeB, botXAB, 'rect', 5.5, RED),
    scatter('I22', 1, botTime, botI2, botTimeB, botI2B, 'triangle', 7, BLUE),
    scatter('TES2', 1, botTime, botTES, botTimeB, botTESB, 'rect', 6, BLACK),
    fit(1, botFitI2Time, botFitI2),
    fit(1, botFitTESTime, botFitTES),
    arrow(1, botArrow),
    tickSeries(1)
  ]
};

const chart = echarts.init(document.getElementById('chart'), null, { renderer: 'canvas', width: 768, height: 1158 });
chart.setOption(option);
</script>
</body>
</html>
